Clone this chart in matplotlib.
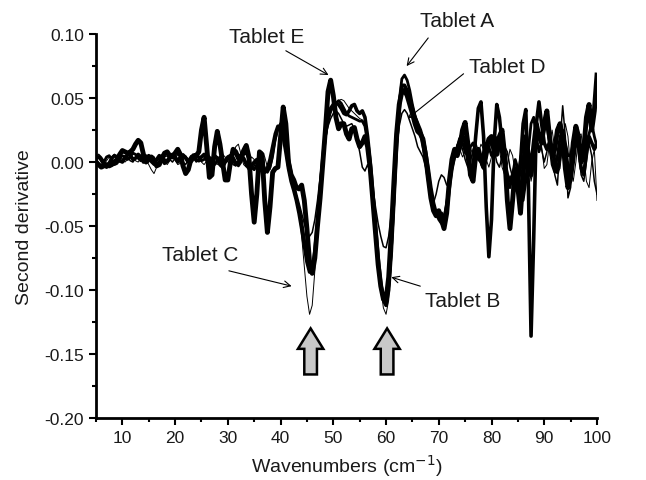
import numpy as np
import matplotlib
matplotlib.use("Agg")
import matplotlib.pyplot as plt
from matplotlib.ticker import MultipleLocator, FormatStrFormatter

plt.rcParams['font.family'] = ['Liberation Sans', 'DejaVu Sans']
plt.rcParams['axes.unicode_minus'] = False

# wavenumber grid, 0.5 cm-1 step from 5 to 100
wavenumbers = np.arange(5.0, 100.25, 0.5)

# second derivative spectra (one row = 5 cm-1)
tablet_E = [
    0.000, -0.002, -0.004, -0.003, -0.002, -0.003, -0.002, 0.000, 0.002, 0.006,
    0.009, 0.008, 0.007, 0.008, 0.010, 0.014, 0.017, 0.015, 0.006, 0.000,
    0.002, 0.004, 0.001, -0.003, -0.002, 0.003, 0.007, 0.008, 0.005, 0.004,
    0.007, 0.010, 0.006, -0.003, -0.009, -0.006, 0.002, 0.005, 0.005, 0.008,
    0.025, 0.035, 0.012, -0.012, -0.010, 0.012, 0.024, 0.014, 0.000, -0.014,
    -0.014, 0.000, 0.010, 0.008, 0.003, 0.004, 0.009, 0.013, 0.004, -0.025,
    -0.047, -0.025, 0.008, 0.006, -0.030, -0.055, -0.035, -0.008, -0.005, -0.004,
    0.020, 0.043, 0.030, 0.000, -0.010, -0.014, -0.020, -0.021, -0.018, -0.030,
    -0.052, -0.078, -0.087, -0.075, -0.050, -0.028, -0.002, 0.025, 0.055, 0.064,
    0.052, 0.035, 0.026, 0.030, 0.030, 0.022, 0.018, 0.026, 0.027, 0.018,
    0.012, 0.015, 0.020, 0.012, -0.005, -0.030, -0.055, -0.080, -0.097, -0.107,
    -0.108, -0.090, -0.055, -0.015, 0.022, 0.045, 0.055, 0.056, 0.052, 0.045,
    0.038, 0.030, 0.024, 0.022, 0.018, 0.005, -0.012, -0.028, -0.038, -0.042,
    -0.038, -0.045, -0.052, -0.040, -0.015, 0.002, 0.010, 0.005, 0.012, 0.025,
    0.031, 0.015, -0.010, -0.015, 0.005, 0.010, 0.002, -0.004, 0.010, 0.018,
    0.020, 0.008, 0.006, 0.020, 0.025, 0.005, -0.030, -0.052, -0.030, -0.005,
    -0.020, -0.040, -0.010, 0.020, 0.005, -0.010, 0.012, 0.030, 0.020, 0.015,
    0.030, 0.040, 0.020, 0.005, 0.010, 0.025, 0.030, 0.020, -0.005, -0.020,
    -0.010, 0.015, 0.028, 0.020, 0.000, 0.010, 0.035, 0.045, 0.025, 0.040,
    0.068]

tablet_B = [
    0.003, 0.004, 0.002, -0.002, -0.004, -0.001, 0.003, 0.005, 0.004, 0.001,
    0.000, 0.003, 0.006, 0.005, 0.002, 0.003, 0.006, 0.004, 0.000, 0.002,
    0.005, 0.003, 0.000, 0.002, 0.005, 0.003, -0.001, 0.001, 0.004, 0.006,
    0.003, 0.000, 0.002, 0.005, 0.003, 0.000, 0.002, 0.004, 0.002, 0.001,
    0.004, 0.006, 0.003, 0.000, 0.002, 0.005, 0.003, -0.002, -0.004, 0.000,
    0.004, 0.005, 0.002, -0.002, 0.000, 0.004, 0.003, -0.002, -0.005, -0.003,
    0.000, 0.002, -0.002, -0.006, -0.008, -0.005, 0.002, 0.012, 0.022, 0.028,
    0.027, 0.020, 0.008, -0.005, -0.015, -0.022, -0.030, -0.040, -0.052, -0.065,
    -0.078, -0.086, -0.084, -0.070, -0.048, -0.022, 0.002, 0.022, 0.035, 0.042,
    0.045, 0.046, 0.045, 0.042, 0.038, 0.037, 0.040, 0.044, 0.045, 0.040,
    0.038, 0.040, 0.035, 0.020, 0.000, -0.025, -0.050, -0.075, -0.095, -0.108,
    -0.112, -0.100, -0.070, -0.030, 0.012, 0.042, 0.060, 0.060, 0.056, 0.050,
    0.042, 0.035, 0.030, 0.025, 0.018, 0.008, -0.005, -0.020, -0.032, -0.040,
    -0.043, -0.040, -0.045, -0.038, -0.020, -0.005, 0.005, 0.010, 0.018, 0.022,
    0.015, 0.002, -0.010, -0.005, 0.020, 0.042, 0.047, 0.020, -0.035, -0.074,
    -0.045, 0.015, 0.045, 0.035, 0.015, 0.000, -0.010, -0.015, -0.010, -0.012,
    -0.020, 0.000, 0.030, 0.041, -0.020, -0.136, -0.060, 0.030, 0.047, 0.030,
    0.015, 0.010, 0.015, 0.012, 0.000, -0.008, 0.005, 0.018, 0.012, -0.005,
    -0.015, 0.000, 0.018, 0.012, -0.005, -0.010, 0.008, 0.020, 0.015, 0.010,
    0.015]

tablet_A = [
    0.002, -0.002, -0.004, 0.000, 0.004, 0.005, 0.002, -0.002, -0.001, 0.003,
    0.005, 0.004, 0.002, 0.004, 0.007, 0.006, 0.003, 0.001, 0.003, 0.005,
    0.003, 0.000, -0.002, 0.001, 0.004, 0.005, 0.002, 0.000, 0.003, 0.005,
    0.004, 0.002, 0.004, 0.006, 0.004, 0.001, 0.000, 0.003, 0.006, 0.004,
    0.001, 0.002, 0.005, 0.004, 0.000, -0.002, 0.001, 0.004, 0.003, 0.000,
    0.002, 0.005, 0.004, 0.000, -0.003, 0.000, 0.006, 0.007, 0.002, -0.004,
    -0.006, -0.002, 0.002, 0.000, -0.005, -0.008, -0.004, 0.005, 0.018, 0.026,
    0.030, 0.026, 0.015, 0.002, -0.010, -0.020, -0.028, -0.036, -0.046, -0.060,
    -0.075, -0.085, -0.086, -0.074, -0.052, -0.025, 0.000, 0.020, 0.032, 0.040,
    0.044, 0.046, 0.048, 0.046, 0.042, 0.038, 0.036, 0.035, 0.034, 0.033,
    0.032, 0.032, 0.028, 0.015, -0.005, -0.030, -0.055, -0.078, -0.096, -0.108,
    -0.110, -0.098, -0.070, -0.030, 0.015, 0.048, 0.065, 0.068, 0.064, 0.056,
    0.045, 0.036, 0.030, 0.022, 0.012, 0.000, -0.012, -0.024, -0.034, -0.040,
    -0.045, -0.048, -0.044, -0.032, -0.018, -0.005, 0.004, 0.012, 0.018, 0.015,
    0.008, 0.005, 0.012, 0.015, 0.008, 0.002, 0.000, 0.008, 0.015, 0.012,
    0.005, 0.010, 0.018, 0.015, 0.005, -0.005, -0.015, -0.020, -0.010, 0.002,
    -0.005, -0.020, -0.030, -0.015, 0.010, 0.030, 0.035, 0.020, 0.008, 0.015,
    0.025, 0.028, 0.015, -0.002, -0.008, 0.005, 0.020, 0.025, 0.015, 0.005,
    0.005, 0.015, 0.022, 0.018, 0.010, 0.008, 0.015, 0.022, 0.030, 0.020,
    0.012]

tablet_D = [
    0.004, 0.006, 0.004, 0.001, -0.002, 0.000, 0.004, 0.006, 0.003, 0.000,
    0.002, 0.005, 0.004, 0.001, 0.000, 0.003, 0.006, 0.005, 0.002, 0.000,
    0.002, 0.005, 0.004, 0.000, -0.003, 0.000, 0.004, 0.005, 0.002, 0.000,
    0.003, 0.006, 0.004, 0.000, -0.002, 0.002, 0.005, 0.003, 0.000, 0.002,
    0.005, 0.004, 0.000, -0.002, 0.001, 0.004, 0.004, 0.001, -0.001, 0.002,
    0.004, 0.002, -0.002, -0.003, 0.001, 0.005, 0.004, 0.000, -0.004, -0.006,
    -0.003, 0.001, 0.000, -0.004, -0.007, -0.006, 0.000, 0.010, 0.020, 0.027,
    0.029, 0.025, 0.016, 0.006, -0.005, -0.015, -0.024, -0.032, -0.040, -0.048,
    -0.055, -0.058, -0.055, -0.045, -0.030, -0.012, 0.005, 0.018, 0.028, 0.034,
    0.038, 0.040, 0.038, 0.034, 0.030, 0.028, 0.029, 0.030, 0.026, 0.018,
    0.008, -0.004, -0.007, -0.002, -0.008, -0.020, -0.035, -0.048, -0.058, -0.066,
    -0.067, -0.058, -0.040, -0.015, 0.010, 0.028, 0.038, 0.041, 0.038, 0.032,
    0.026, 0.020, 0.012, 0.008, 0.004, -0.004, -0.018, -0.030, -0.032, -0.025,
    -0.015, -0.010, -0.012, -0.018, -0.015, -0.006, 0.004, 0.012, 0.016, 0.010,
    0.002, -0.004, 0.000, 0.010, 0.015, 0.008, -0.002, -0.006, 0.000, 0.010,
    0.016, 0.010, 0.000, -0.004, 0.004, 0.012, 0.008, -0.004, -0.012, -0.015,
    -0.008, 0.005, 0.010, 0.004, -0.008, -0.012, 0.002, 0.018, 0.022, 0.010,
    0.000, 0.008, 0.020, 0.012, -0.010, -0.018, 0.015, 0.044, 0.020, -0.028,
    -0.020, 0.005, 0.020, 0.010, -0.010, -0.015, 0.000, 0.015, 0.005, -0.015,
    -0.025]

tablet_C = [
    0.005, 0.003, 0.000, -0.002, 0.001, 0.004, 0.003, 0.000, 0.002, 0.004,
    0.002, 0.000, 0.002, 0.005, 0.004, 0.001, 0.000, 0.003, 0.005, 0.002,
    -0.002, -0.006, -0.009, -0.004, 0.002, 0.004, 0.001, -0.002, 0.001, 0.004,
    0.002, -0.002, -0.001, 0.003, 0.005, 0.002, -0.001, 0.001, 0.004, 0.003,
    0.000, -0.002, 0.001, 0.004, 0.003, 0.000, -0.002, 0.002, 0.006, 0.004,
    0.000, -0.002, 0.004, 0.012, 0.014, 0.006, -0.002, -0.004, 0.000, 0.004,
    0.002, -0.002, 0.002, 0.008, 0.004, -0.004, -0.006, 0.002, 0.015, 0.024,
    0.028, 0.025, 0.016, 0.004, -0.008, -0.018, -0.028, -0.040, -0.058, -0.082,
    -0.105, -0.119, -0.112, -0.085, -0.055, -0.025, 0.000, 0.018, 0.030, 0.038,
    0.043, 0.046, 0.048, 0.049, 0.048, 0.045, 0.042, 0.040, 0.038, 0.036,
    0.034, 0.033, 0.030, 0.020, 0.002, -0.022, -0.048, -0.075, -0.098, -0.114,
    -0.119, -0.108, -0.078, -0.035, 0.010, 0.040, 0.055, 0.058, 0.055, 0.048,
    0.040, 0.034, 0.030, 0.025, 0.015, 0.004, -0.008, -0.020, -0.030, -0.038,
    -0.042, -0.044, -0.040, -0.030, -0.015, -0.002, 0.008, 0.014, 0.010, 0.004,
    0.008, 0.015, 0.012, 0.004, 0.000, 0.006, 0.014, 0.010, 0.002, -0.004,
    0.004, 0.015, 0.020, 0.010, -0.004, -0.010, -0.002, 0.010, 0.005, -0.008,
    -0.018, -0.010, 0.005, 0.012, 0.000, -0.015, -0.005, 0.015, 0.025, 0.012,
    -0.005, -0.002, 0.015, 0.025, 0.010, -0.008, -0.005, 0.015, 0.030, 0.020,
    -0.005, -0.015, 0.000, 0.020, 0.022, 0.005, -0.015, -0.020, 0.000, 0.010,
    -0.030]

series = [tablet_C, tablet_D, tablet_A, tablet_B, tablet_E]
widths = [0.7, 1.1, 2.0, 2.6, 3.5]

# labels: text, text position, arrow tail, arrow tip
labels = ["Tablet E", "Tablet A", "Tablet D", "Tablet C", "Tablet B"]
label_xy = [(37.3, 0.098), (73.5, 0.111), (82.9, 0.075), (24.8, -0.072), (74.6, -0.108)]
tail_xy = [(41.0, 0.087), (68.0, 0.097), (74.7, 0.069), (30.2, -0.085), (66.5, -0.097)]
tip_xy = [(49.1, 0.068), (63.9, 0.075), (64.1, 0.034), (42.1, -0.097), (61.0, -0.090)]

# block arrows marking the two bands
band_pos = [45.7, 60.2]

fig = plt.figure(figsize=(6.46, 4.81), dpi=100)
ax = fig.add_axes([0.1486, 0.129, 0.7755, 0.798])

for s, w in zip(series, widths):
    ax.plot(wavenumbers, s, color='black', lw=w, solid_joinstyle='round')

for txt, pt, tl, tp in zip(labels, label_xy, tail_xy, tip_xy):
    ax.text(pt[0], pt[1], txt, fontsize=15, color='#1a1a1a', ha='center', va='center')
    ax.annotate('', xy=tp, xytext=tl,
                arrowprops=dict(arrowstyle='->', color='black', lw=0.8,
                                mutation_scale=12, shrinkA=0, shrinkB=0))

for bp in band_pos:
    ax.arrow(bp, -0.166, 0, 0.036, width=2.4, head_width=4.8, head_length=0.016,
             length_includes_head=True, fc='#c8c8c8', ec='black', lw=1.8, zorder=5)

ax.set_xlim(5, 100)
ax.set_ylim(-0.20, 0.10)
ax.xaxis.set_major_locator(MultipleLocator(10))
ax.xaxis.set_minor_locator(MultipleLocator(5))
ax.yaxis.set_major_locator(MultipleLocator(0.05))
ax.yaxis.set_minor_locator(MultipleLocator(0.025))
ax.yaxis.set_major_formatter(FormatStrFormatter('%.2f'))

for side in ['top', 'right']:
    ax.spines[side].set_visible(False)
for side in ['left', 'bottom']:
    ax.spines[side].set_linewidth(2.0)

ax.tick_params(which='major', direction='out', length=5, width=1.5, labelsize=12.5,
               colors='black', labelcolor='#1a1a1a')
ax.tick_params(which='minor', direction='out', length=3, width=1.5)

ax.set_xlabel('Wavenumbers (cm$^{-1}$)', fontsize=14, color='#1a1a1a', labelpad=5)
ax.set_ylabel('Second derivative', fontsize=14, color='#1a1a1a', labelpad=8)

fig.savefig('out.png', dpi=100)
